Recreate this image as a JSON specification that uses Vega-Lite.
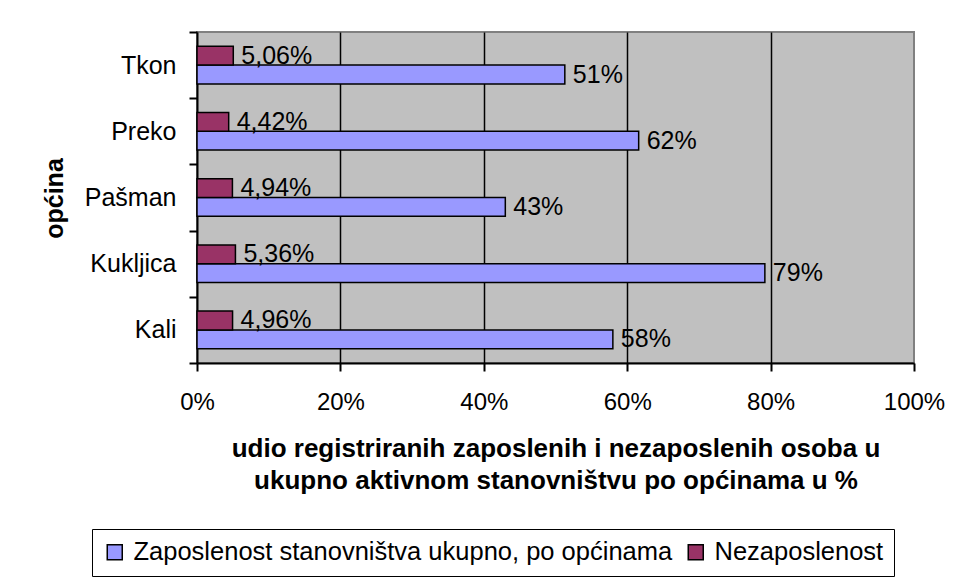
{
  "$schema": "https://vega.github.io/schema/vega-lite/v6.json",
  "width": 717,
  "height": 331,
  "autosize": "none",
  "padding": {"left": 197, "top": 32, "right": 41, "bottom": 215},
  "background": "white",
  "config": {
    "font": "Liberation Sans",
    "locale": {"number": {"decimal": ",", "thousands": ".", "grouping": [3], "currency": ["", " kn"]}},
    "view": {"fill": "#C0C0C0", "stroke": "#808080", "strokeWidth": 2}
  },
  "data": {
    "values": [
      {"opcina": "Tkon", "serija": "Zaposlenost stanovništva ukupno, po općinama", "udio": 0.513},
      {"opcina": "Tkon", "serija": "Nezaposlenost", "udio": 0.0506},
      {"opcina": "Preko", "serija": "Zaposlenost stanovništva ukupno, po općinama", "udio": 0.616},
      {"opcina": "Preko", "serija": "Nezaposlenost", "udio": 0.0442},
      {"opcina": "Pašman", "serija": "Zaposlenost stanovništva ukupno, po općinama", "udio": 0.43},
      {"opcina": "Pašman", "serija": "Nezaposlenost", "udio": 0.0494},
      {"opcina": "Kukljica", "serija": "Zaposlenost stanovništva ukupno, po općinama", "udio": 0.792},
      {"opcina": "Kukljica", "serija": "Nezaposlenost", "udio": 0.0536},
      {"opcina": "Kali", "serija": "Zaposlenost stanovništva ukupno, po općinama", "udio": 0.58},
      {"opcina": "Kali", "serija": "Nezaposlenost", "udio": 0.0496}
    ]
  },
  "encoding": {
    "y": {
      "field": "opcina",
      "type": "nominal",
      "sort": ["Tkon", "Preko", "Pašman", "Kukljica", "Kali"],
      "scale": {"paddingInner": 0, "paddingOuter": 0},
      "axis": {
        "title": "općina",
        "titleFontSize": 25,
        "titleFontWeight": "bold",
        "titleColor": "black",
        "titleAngle": 270,
        "titleX": -135,
        "titleY": 166,
        "titleAlign": "center",
        "titleBaseline": "alphabetic",
        "labelFontSize": 25,
        "labelColor": "black",
        "labelPadding": 13,
        "tickBand": "extent",
        "tickSize": 8,
        "tickColor": "black",
        "tickWidth": 2,
        "domainColor": "black",
        "domainWidth": 2,
        "grid": false
      }
    },
    "yOffset": {
      "field": "serija",
      "type": "nominal",
      "sort": ["Nezaposlenost", "Zaposlenost stanovništva ukupno, po općinama"],
      "scale": {"paddingInner": 0, "paddingOuter": 0.76}
    },
    "x": {
      "field": "udio",
      "type": "quantitative",
      "scale": {"domain": [0, 1], "nice": false},
      "axis": {
        "values": [0, 0.2, 0.4, 0.6, 0.8, 1],
        "format": ".0%",
        "labelFontSize": 24,
        "labelColor": "black",
        "labelBaseline": "alphabetic",
        "labelPadding": 38,
        "labelFlush": false,
        "tickSize": 8,
        "tickColor": "black",
        "tickWidth": 2,
        "domainColor": "black",
        "domainWidth": 2,
        "grid": true,
        "gridColor": {"condition": {"test": "datum.value <= 0 || datum.value >= 1", "value": "transparent"}, "value": "black"},
        "gridWidth": 1.5,
        "title": ["udio registriranih zaposlenih i nezaposlenih osoba u", "ukupno aktivnom stanovništvu po općinama u %"],
        "titleFontSize": 26,
        "titleFontWeight": "bold",
        "titleColor": "black",
        "titleBaseline": "alphabetic",
        "titleY": 93,
        "titleLineHeight": 32
      }
    }
  },
  "layer": [
    {
      "mark": {"type": "bar", "stroke": "black", "strokeWidth": 1.5},
      "encoding": {
        "color": {
          "field": "serija",
          "type": "nominal",
          "scale": {
            "domain": ["Zaposlenost stanovništva ukupno, po općinama", "Nezaposlenost"],
            "range": ["#9999FF", "#993366"]
          },
          "legend": {
            "title": null,
            "orient": "none",
            "legendX": -105,
            "legendY": 497,
            "direction": "horizontal",
            "strokeColor": "black",
            "fillColor": "white",
            "padding": 10,
            "symbolType": "square",
            "symbolSize": 225,
            "symbolStrokeColor": "black",
            "symbolStrokeWidth": 1.5,
            "symbolOpacity": 1,
            "labelFontSize": 25.5,
            "labelColor": "black",
            "labelLimit": 800,
            "labelOffset": 6,
            "columnPadding": 10
          }
        }
      }
    },
    {
      "transform": [{"filter": "datum.serija == 'Nezaposlenost'"}],
      "mark": {"type": "text", "align": "left", "baseline": "middle", "dx": 8, "fontSize": 25, "color": "black"},
      "encoding": {"text": {"field": "udio", "type": "quantitative", "format": ".2%"}}
    },
    {
      "transform": [{"filter": "datum.serija != 'Nezaposlenost'"}],
      "mark": {"type": "text", "align": "left", "baseline": "middle", "dx": 8, "fontSize": 25, "color": "black"},
      "encoding": {"text": {"field": "udio", "type": "quantitative", "format": ".0%"}}
    }
  ]
}
